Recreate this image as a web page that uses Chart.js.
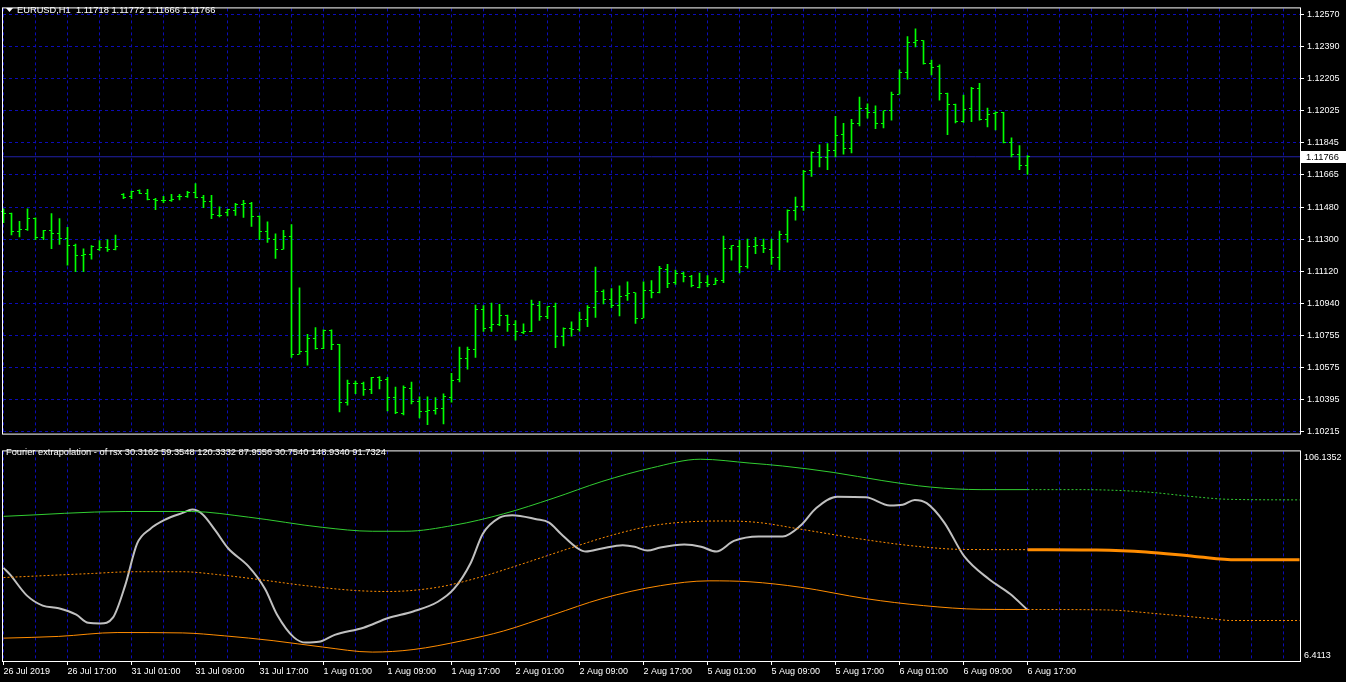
<!DOCTYPE html>
<html>
<head>
<meta charset="utf-8">
<script src="https://cdn.jsdelivr.net/npm/chart.js@4/dist/chart.umd.min.js"></script>
<style>
  html, body { margin: 0; padding: 0; background: #000; }
  #wrap { position: relative; width: 1346px; height: 682px; overflow: hidden; background: #000; }
  canvas { position: absolute; left: 0; }
  #price { top: 0; }
  #osc { top: 442px; }
</style>
</head>
<body>
<div id="wrap">
  <canvas id="price" width="1346" height="442"></canvas>
  <canvas id="osc" width="1346" height="240"></canvas>
</div>
<script>
const symbol = "EURUSD,H1";
const indicatorName = "Fourier extrapolation - of rsx";
const indicatorValues = [30.3162, 59.3548, 120.3332, 87.9556, 30.7540, 148.9340, 91.7324];

const timeLabels = ["26 Jul 2019", "26 Jul 17:00", "31 Jul 01:00", "31 Jul 09:00", "31 Jul 17:00",
  "1 Aug 01:00", "1 Aug 09:00", "1 Aug 17:00", "2 Aug 01:00", "2 Aug 09:00", "2 Aug 17:00",
  "5 Aug 01:00", "5 Aug 09:00", "5 Aug 17:00", "6 Aug 01:00", "6 Aug 09:00", "6 Aug 17:00"];

const priceTicks = [1.10215, 1.10395, 1.10575, 1.10755, 1.10940, 1.11120, 1.11300,
  1.11480, 1.11665, 1.11845, 1.12025, 1.12205, 1.12390, 1.12570];
const oscTicks = [6.4113, 106.1352];

// hourly bars, oldest first
const opens = [
  1.11456, 1.11448, 1.11344, 1.11355, 1.11415, 1.11311, 1.11351, 1.11335, 1.11306, 1.11267,
  1.11207, 1.11212, 1.11245, 1.11256, 1.11240, 1.11554, 1.11543, 1.11576, 1.11558, 1.11525,
  1.11518, 1.11520, 1.11540, 1.11543, 1.11562, 1.11536, 1.11514, 1.11432, 1.11450, 1.11461,
  1.11496, 1.11505, 1.11428, 1.11346, 1.11298, 1.11245, 1.11317, 1.10652, 1.10669, 1.10742,
  1.10685, 1.10786, 1.10707, 1.10380, 1.10484, 1.10484, 1.10451, 1.10521, 1.10510, 1.10405,
  1.10319, 1.10460, 1.10383, 1.10328, 1.10334, 1.10345, 1.10405, 1.10510, 1.10625, 1.10681,
  1.10905, 1.10801, 1.10817, 1.10872, 1.10817, 1.10773, 1.10779, 1.10927, 1.10866, 1.10921,
  1.10753, 1.10795, 1.10791, 1.10845, 1.10916, 1.11004, 1.10963, 1.10927, 1.10982, 1.10998,
  1.10856, 1.11013, 1.10998, 1.11132, 1.11059, 1.11108, 1.11093, 1.11027, 1.11059, 1.11048,
  1.11070, 1.11251, 1.11262, 1.11146, 1.11262, 1.11267, 1.11245, 1.11196, 1.11329, 1.11461,
  1.11487, 1.11690, 1.11789, 1.11761, 1.11800, 1.11893, 1.11812, 1.11954, 1.12036, 1.12014,
  1.11954, 1.12025, 1.12120, 1.12239, 1.12409, 1.12422, 1.12294, 1.12274, 1.12124, 1.12058,
  1.11966, 1.12038, 1.12151, 1.11975, 1.12010, 1.12017, 1.11844, 1.11778, 1.11718];
const highs = [
  1.11472, 1.11448, 1.11402, 1.11472, 1.11421, 1.11351, 1.11445, 1.11417, 1.11368, 1.11273,
  1.11247, 1.11265, 1.11293, 1.11298, 1.11324, 1.11558, 1.11572, 1.11580, 1.11582, 1.11531,
  1.11543, 1.11554, 1.11554, 1.11571, 1.11615, 1.11549, 1.11549, 1.11483, 1.11470, 1.11503,
  1.11520, 1.11509, 1.11432, 1.11399, 1.11331, 1.11351, 1.11384, 1.11027, 1.10764, 1.10802,
  1.10790, 1.10790, 1.10707, 1.10506, 1.10500, 1.10495, 1.10522, 1.10526, 1.10522, 1.10467,
  1.10473, 1.10495, 1.10412, 1.10412, 1.10407, 1.10429, 1.10544, 1.10692, 1.10692, 1.10929,
  1.10927, 1.10940, 1.10934, 1.10872, 1.10841, 1.10823, 1.10958, 1.10950, 1.10921, 1.10940,
  1.10801, 1.10835, 1.10890, 1.10927, 1.11143, 1.11015, 1.11022, 1.11038, 1.11060, 1.10998,
  1.11060, 1.11067, 1.11148, 1.11159, 1.11126, 1.11115, 1.11097, 1.11110, 1.11095, 1.11082,
  1.11318, 1.11265, 1.11296, 1.11302, 1.11311, 1.11302, 1.11302, 1.11346, 1.11467, 1.11538,
  1.11690, 1.11794, 1.11833, 1.11840, 1.11994, 1.11955, 1.11977, 1.12103, 1.12065, 1.12054,
  1.12025, 1.12131, 1.12257, 1.12444, 1.12488, 1.12422, 1.12312, 1.12285, 1.12125, 1.12063,
  1.12114, 1.12158, 1.12180, 1.12041, 1.12019, 1.12017, 1.11873, 1.11829, 1.11772];
const lows = [
  1.11394, 1.11325, 1.11314, 1.11351, 1.11298, 1.11298, 1.11247, 1.11271, 1.11154, 1.11117,
  1.11117, 1.11188, 1.11238, 1.11232, 1.11240, 1.11529, 1.11529, 1.11558, 1.11523, 1.11467,
  1.11507, 1.11514, 1.11523, 1.11536, 1.11534, 1.11479, 1.11417, 1.11426, 1.11432, 1.11435,
  1.11424, 1.11373, 1.11298, 1.11282, 1.11192, 1.11245, 1.10634, 1.10652, 1.10590, 1.10680,
  1.10683, 1.10678, 1.10326, 1.10365, 1.10429, 1.10420, 1.10429, 1.10456, 1.10332, 1.10317,
  1.10310, 1.10372, 1.10292, 1.10255, 1.10314, 1.10259, 1.10381, 1.10496, 1.10568, 1.10634,
  1.10780, 1.10780, 1.10813, 1.10780, 1.10731, 1.10768, 1.10779, 1.10842, 1.10852, 1.10689,
  1.10698, 1.10753, 1.10782, 1.10808, 1.10859, 1.10936, 1.10914, 1.10868, 1.10956, 1.10826,
  1.10856, 1.10969, 1.10998, 1.11027, 1.11045, 1.11060, 1.11031, 1.11026, 1.11033, 1.11045,
  1.11055, 1.11183, 1.11110, 1.11137, 1.11219, 1.11225, 1.11159, 1.11128, 1.11284, 1.11408,
  1.11463, 1.11655, 1.11708, 1.11693, 1.11765, 1.11781, 1.11787, 1.11940, 1.11984, 1.11924,
  1.11929, 1.11973, 1.12120, 1.12204, 1.12385, 1.12288, 1.12228, 1.12085, 1.11891, 1.11957,
  1.11959, 1.11964, 1.11973, 1.11935, 1.11918, 1.11844, 1.11765, 1.11693, 1.11666];
const closes = [
  1.11448, 1.11344, 1.11355, 1.11415, 1.11311, 1.11351, 1.11335, 1.11306, 1.11267, 1.11207,
  1.11212, 1.11262, 1.11252, 1.11240, 1.11262, 1.11534, 1.11571, 1.11558, 1.11525, 1.11518,
  1.11520, 1.11525, 1.11543, 1.11562, 1.11536, 1.11514, 1.11439, 1.11435, 1.11467, 1.11496,
  1.11505, 1.11428, 1.11346, 1.11302, 1.11245, 1.11317, 1.10652, 1.10669, 1.10742, 1.10685,
  1.10787, 1.10707, 1.10380, 1.10484, 1.10484, 1.10451, 1.10521, 1.10506, 1.10405, 1.10325,
  1.10466, 1.10383, 1.10328, 1.10334, 1.10345, 1.10411, 1.10504, 1.10625, 1.10681, 1.10905,
  1.10795, 1.10817, 1.10872, 1.10817, 1.10779, 1.10779, 1.10932, 1.10866, 1.10921, 1.10753,
  1.10798, 1.10791, 1.10845, 1.10916, 1.11004, 1.10963, 1.10927, 1.10976, 1.10993, 1.10856,
  1.11009, 1.10998, 1.11137, 1.11053, 1.11108, 1.11089, 1.11037, 1.11059, 1.11048, 1.11070,
  1.11251, 1.11263, 1.11146, 1.11262, 1.11267, 1.11249, 1.11196, 1.11328, 1.11461, 1.11485,
  1.11685, 1.11789, 1.11761, 1.11800, 1.11888, 1.11812, 1.11954, 1.12036, 1.12014, 1.11954,
  1.12025, 1.12120, 1.12239, 1.12409, 1.12420, 1.12294, 1.12272, 1.12124, 1.12058, 1.11966,
  1.12030, 1.12151, 1.11975, 1.12003, 1.12017, 1.11849, 1.11778, 1.11717, 1.11766];

// oscillator panel, x = bar index
const rsxAt = [0, 0.8, 2.9, 4.9, 6.9, 9.1, 10.6, 12.1, 13.7, 15.2, 16.7, 18.3, 20.3, 22.4, 23.6,
  24.9, 26.5, 28.1, 30.6, 32.7, 34.2, 36.3, 37.8, 39.4, 41.4, 45.0, 48.1, 51.2, 54.3, 56.3, 58.4,
  59.9, 62.0, 63.6, 66.6, 68.2, 69.7, 71.8, 72.8, 74.8, 77.4, 78.9, 80.5, 82.1, 85.1, 87.2, 89.1,
  91.3, 94.4, 97.4, 99.6, 101.6, 104.2, 107.8, 110.8, 112.4, 113.9, 115.4, 117.6, 120.1, 123.2,
  125.8, 128];
const rsxVal = [50.0, 46.6, 35.8, 30.5, 29.1, 25.8, 21.6, 21.3, 24.4, 40.8, 62.5, 70.0, 75.1, 78.4, 80.1,
  77.6, 69.2, 60.0, 50.9, 39.1, 25.8, 14.1, 11.4, 11.8, 15.4, 19.1, 24.1, 27.5, 32.5, 39.1, 52.5,
  67.5, 75.9, 77.2, 75.1, 73.4, 67.5, 60.0, 58.4, 60.0, 61.7, 60.9, 58.9, 60.5, 62.0, 60.9, 58.4,
  63.9, 66.2, 66.2, 71.7, 80.9, 86.7, 86.4, 82.2, 82.6, 85.1, 83.4, 73.4, 55.9, 44.1,
  36.6, 28.3];

const upperAt = [0, 15.2, 23.5, 30.6, 39.9, 46.1, 50.2, 56.3, 62.5, 68.7, 74.8, 81.0, 87.1, 93.3, 97.4,
  103.7, 109.8, 115.9, 122.2, 128];
const upperVal = [76.6, 79.1, 79.1, 76.2, 70.9, 68.9, 68.9, 72.0, 77.9, 85.9, 94.6, 101.6, 106.1, 104.1, 102.6,
  99.3, 95.1, 91.7, 90.4, 90.4];
const upperExtAt = [128, 134.5, 142.8, 148.9, 153.1, 162];
const upperExtVal = [90.4, 90.4, 89.2, 86.7, 85.4, 85.1];

const middleAt = [0, 11.1, 16.2, 22.4, 26.6, 31.7, 37.8, 44.0, 48.1, 54.3, 59.4, 64.6, 70.7, 75.9, 81.0,
  86.2, 90.3, 94.4, 99.6, 107.8, 114.0, 120.1, 128];
const middleVal = [45.0, 47.1, 48.0, 48.0, 46.6, 44.1, 40.8, 38.3, 37.8, 40.0, 45.0, 51.7, 60.0, 66.7, 71.7,
  73.9, 74.2, 73.4, 70.0, 64.5, 61.2, 59.5, 59.4];
const middleExtAt = [128, 136.6, 142.8, 148.9, 154.1, 162];
const middleExtVal = [59.4, 59.2, 58.2, 55.9, 54.2, 54.2];

const lowerAt = [0, 6.9, 14.2, 22.4, 27.6, 33.7, 39.9, 46.1, 51.2, 57.4, 62.5, 68.7, 74.8, 82.1, 88.2,
  93.3, 99.6, 107.8, 115.0, 122.2, 128];
const lowerVal = [13.7, 14.6, 16.6, 16.4, 14.9, 12.4, 9.1, 6.5, 7.8, 12.4, 17.4, 25.8, 34.1, 40.8, 43.3,
  42.8, 40.0, 34.1, 30.5, 28.6, 28.5];
const lowerExtAt = [128, 137.6, 144.8, 150.9, 153.5, 162];
const lowerExtVal = [28.5, 28.3, 26.1, 23.8, 22.8, 22.8];

const FONT = {family: "'Liberation Sans', Arial, sans-serif", size: 9};
const FONT_CSS = "9.3px 'Liberation Sans', Arial, sans-serif";
const GRID = "#0c0cb8";
const BAR = "#00ff00";
const GREEN = "#32cd32";
const ORANGE = "#ff8c00";
const RSX = "#c0c0c0";
const X_MIN = -0.0625, X_MAX = 162.0625;
const gridBars = Array.from({length: 41}, (_, i) => i * 4);
const last = closes.length - 1;

const setGridTicks = (scale) => { scale.ticks = gridBars.map(v => ({value: v})); };

const frame = {
  id: "frame",
  afterDraw(chart) {
    const {ctx, chartArea: a} = chart;
    ctx.save();
    ctx.strokeStyle = "#fff";
    ctx.lineWidth = 1;
    ctx.strokeRect(a.left - 0.5, a.top - 0.5, a.right - a.left + 1, a.bottom - a.top + 1);
    ctx.restore();
  }
};

// open tick to the left, close tick to the right of each bar
const ohlcTicks = {
  id: "ohlcTicks",
  afterDatasetsDraw(chart) {
    const {ctx, scales: {x, y}} = chart;
    ctx.save();
    ctx.fillStyle = BAR;
    opens.forEach((o, i) => {
      const px = Math.floor(x.getPixelForValue(i));
      ctx.fillRect(px - 2, Math.floor(y.getPixelForValue(o)), 2, 1);
      ctx.fillRect(px + 1, Math.floor(y.getPixelForValue(closes[i])), 2, 1);
    });
    ctx.restore();
  }
};

const priceHeader = {
  id: "priceHeader",
  afterDraw(chart) {
    const {ctx, scales: {y}} = chart;
    ctx.save();
    ctx.fillStyle = "#fff";
    ctx.beginPath();
    ctx.moveTo(6, 8); ctx.lineTo(13, 8); ctx.lineTo(9.5, 12); ctx.closePath();
    ctx.fill();
    ctx.font = FONT_CSS;
    ctx.textBaseline = "middle";
    const ohlc = [opens[last], highs[last], lows[last], closes[last]].map(v => v.toFixed(5)).join(" ");
    ctx.fillText(symbol + "  " + ohlc, 17, 10.5);

    const py = Math.round(y.getPixelForValue(closes[last]));
    ctx.fillRect(1301, py - 6, 45, 12);
    ctx.fillStyle = "#000";
    ctx.fillText(closes[last].toFixed(5), 1306, py + 0.5);
    ctx.restore();
  }
};

new Chart(document.getElementById("price"), {
  type: "bar",
  data: {
    datasets: [
      {
        type: "line",
        data: [{x: X_MIN, y: closes[last]}, {x: X_MAX, y: closes[last]}],
        borderColor: "#2020a8",
        borderWidth: 1,
        pointRadius: 0,
        order: 2
      },
      {
        type: "bar",
        data: highs.map((h, i) => ({x: i, y: [lows[i], h]})),
        backgroundColor: BAR,
        borderWidth: 0,
        barThickness: 1,
        grouped: false,
        order: 1
      }
    ]
  },
  options: {
    responsive: false,
    animation: false,
    devicePixelRatio: 1,
    layout: {padding: {left: 3, top: 3, right: 0, bottom: 2}},
    plugins: {legend: {display: false}, tooltip: {enabled: false}},
    scales: {
      x: {
        type: "linear", min: X_MIN, max: X_MAX, offset: false,
        afterBuildTicks: setGridTicks,
        afterFit: (s) => { s.height = 0; },
        ticks: {display: false},
        grid: {color: GRID, drawTicks: false, offset: false},
        border: {display: false, dash: [3, 3]}
      },
      y: {
        position: "right", min: 1.10204, max: 1.12603,
        afterBuildTicks: (s) => { s.ticks = priceTicks.map(v => ({value: v})); },
        afterFit: (s) => { s.width = 46; },
        ticks: {color: "#fff", font: FONT, padding: 3, callback: (v) => v.toFixed(5)},
        grid: {color: GRID, tickColor: "#fff", tickLength: 4, tickBorderDash: []},
        border: {display: false, dash: [3, 3]}
      }
    }
  },
  plugins: [ohlcTicks, frame, priceHeader]
});

const oscHeader = {
  id: "oscHeader",
  afterDraw(chart) {
    const {ctx} = chart;
    ctx.save();
    ctx.fillStyle = "#fff";
    ctx.font = FONT_CSS;
    ctx.textBaseline = "middle";
    ctx.fillText(indicatorName + " " + indicatorValues.map(v => v.toFixed(4)).join(" "), 6, 10.5);
    ctx.restore();
  }
};

const series = (xs, ys, color, width, dash) => ({
  data: xs.map((x, i) => ({x: x, y: ys[i]})),
  borderColor: color,
  borderWidth: width,
  borderDash: dash,
  pointRadius: 0,
  cubicInterpolationMode: "monotone",
  fill: false,
  yAxisID: "y"
});

new Chart(document.getElementById("osc"), {
  type: "line",
  data: {
    datasets: [
      series(upperAt, upperVal, GREEN, 1, []),
      series(upperExtAt, upperExtVal, GREEN, 1, [2, 2]),
      series(middleAt, middleVal, ORANGE, 1, [2, 2]),
      series(middleExtAt, middleExtVal, ORANGE, 3, []),
      series(lowerAt, lowerVal, ORANGE, 1, []),
      series(lowerExtAt, lowerExtVal, ORANGE, 1, [2, 2]),
      series(rsxAt, rsxVal, RSX, 2, [])
    ]
  },
  options: {
    responsive: false,
    animation: false,
    devicePixelRatio: 1,
    layout: {padding: {left: 3, top: 3, right: 0, bottom: 0}},
    plugins: {legend: {display: false}, tooltip: {enabled: false}},
    scales: {
      x: {
        type: "linear", min: X_MIN, max: X_MAX, offset: false,
        afterBuildTicks: setGridTicks,
        afterFit: (s) => { s.height = 21; },
        ticks: {
          color: "#fff", font: FONT, align: "start", padding: 1,
          autoSkip: false, maxRotation: 0, minRotation: 0,
          callback: (v) => (v % 8 === 0 && timeLabels[v / 8]) || ""
        },
        grid: {
          color: GRID, tickLength: 4, tickBorderDash: [],
          tickColor: (c) => (c.tick && c.tick.value % 8 === 0 && c.tick.value / 8 < timeLabels.length) ? "#fff" : "rgba(0,0,0,0)"
        },
        border: {display: false, dash: [3, 3]}
      },
      y: {
        display: false, min: 1.90, max: 110.14
      },
      // label scale: MT4 insets the min/max labels a few pixels from the frame
      yl: {
        position: "right", min: 3.478, max: 109.07,
        afterBuildTicks: (s) => { s.ticks = oscTicks.map(v => ({value: v})); },
        afterFit: (s) => { s.width = 46; },
        ticks: {color: "#fff", font: FONT, padding: 4, callback: (v) => v.toFixed(4)},
        grid: {display: false, drawTicks: false},
        border: {display: false}
      }
    }
  },
  plugins: [frame, oscHeader]
});
</script>
</body>
</html>
